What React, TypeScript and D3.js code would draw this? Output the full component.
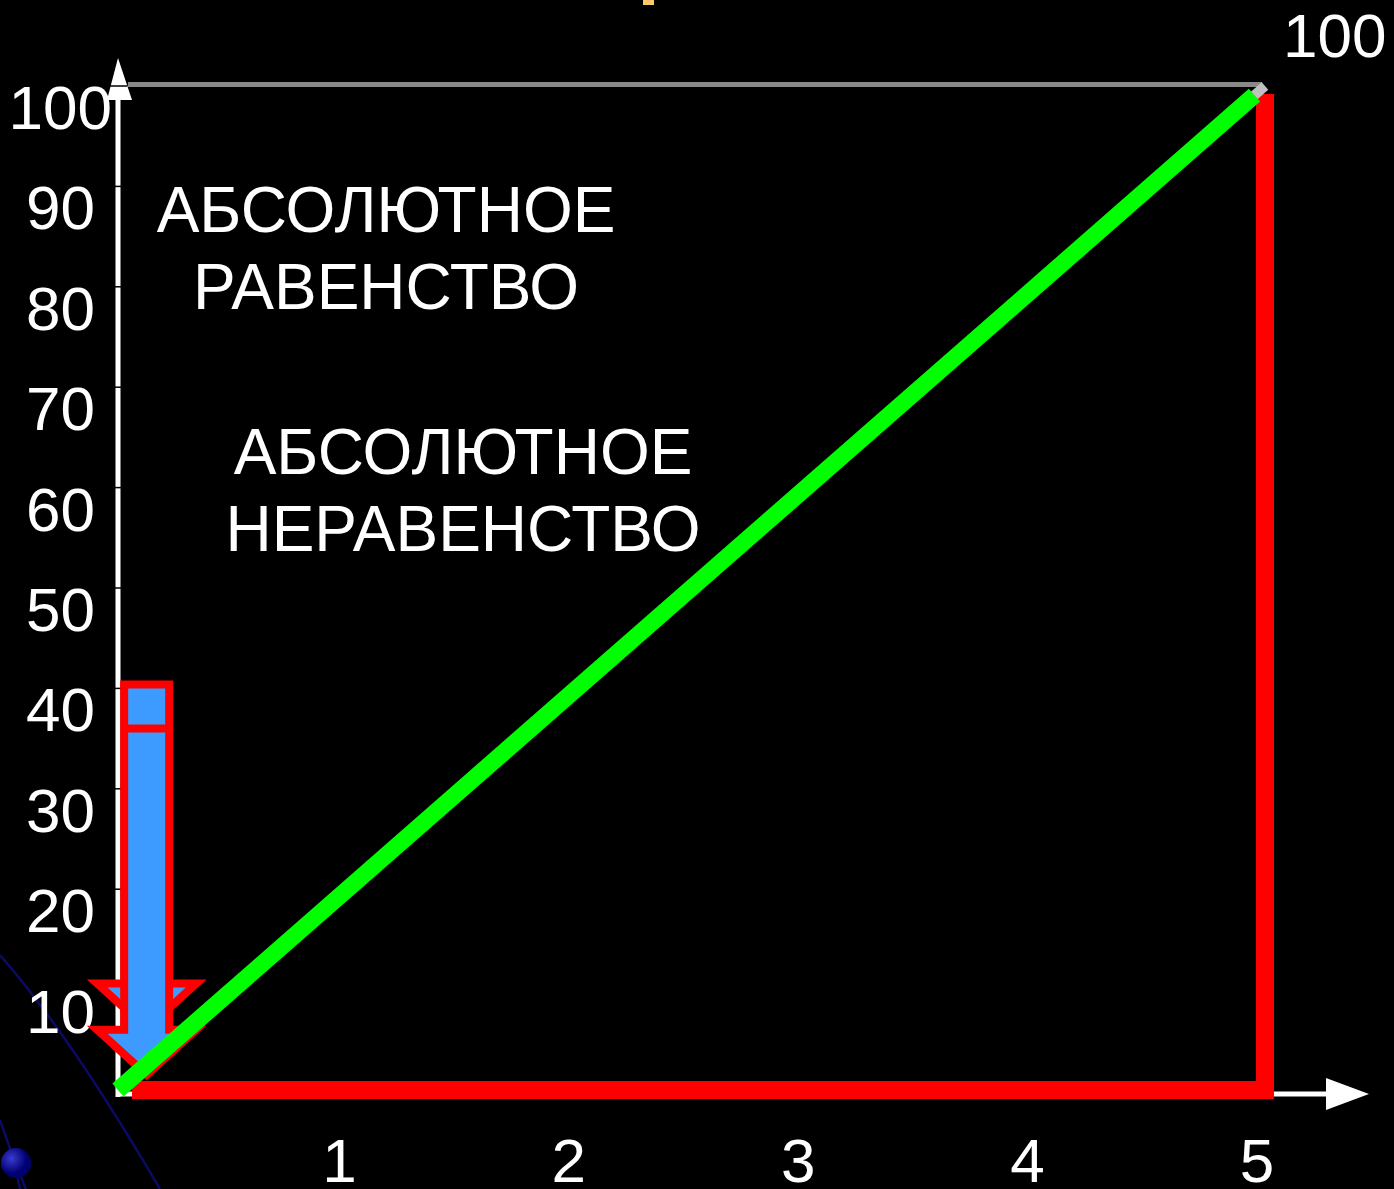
import React, { useEffect, useRef } from "react";
import * as d3 from "d3";

// quintiles of population (x) and cumulative share of income, % (y)
const xTicks = [1, 2, 3, 4, 5];
const yTicks = [10, 20, 30, 40, 50, 60, 70, 80, 90, 100];
const equalityLine: [number, number][] = [
  [0, 0],
  [5, 100],
];
const inequalityLine: [number, number][] = [
  [0, 0],
  [5, 0],
  [5, 100],
];
const equalityLabel = ["АБСОЛЮТНОЕ", "РАВЕНСТВО"];
const inequalityLabel = ["АБСОЛЮТНОЕ", "НЕРАВЕНСТВО"];
const cornerLabel = "100";

// the blue "down" arrow, in chart units
const arrowX = 0.125;
const arrowTop = 40.4;
const arrowSplit = 36;
const arrowHeadTop = 6;
const arrowGhostTop = 10.6;

const W = 1394;
const H = 1189;
const FONT = "'Liberation Sans', Arial, sans-serif";

const App = () => {
  const svgRef = useRef<SVGSVGElement>(null);

  useEffect(() => {
    const svg = d3.select(svgRef.current);
    svg.selectAll("*").remove();

    const x = d3.scaleLinear().domain([0, 5]).range([118, 1265]);
    const y = d3.scaleLinear().domain([0, 100]).range([1090, 86]);

    svg.append("rect").attr("width", W).attr("height", H).attr("fill", "#000");

    // slide template leftovers
    const grad = svg
      .append("defs")
      .append("radialGradient")
      .attr("id", "ball")
      .attr("cx", "35%")
      .attr("cy", "35%");
    grad.append("stop").attr("offset", "0%").attr("stop-color", "#3a3ad0");
    grad.append("stop").attr("offset", "100%").attr("stop-color", "#000070");

    svg
      .append("path")
      .attr("d", "M0,955 Q70,1035 160,1189")
      .attr("fill", "none")
      .attr("stroke", "#0b0b66")
      .attr("stroke-width", 2.5);
    svg
      .append("path")
      .attr("d", "M0,1120 L14,1160 L20,1189 M14,1160 L26,1189")
      .attr("fill", "none")
      .attr("stroke", "#0b0b66")
      .attr("stroke-width", 2.5);
    svg.append("circle").attr("cx", 16).attr("cy", 1163).attr("r", 15).attr("fill", "url(#ball)");
    svg.append("rect").attr("x", 643).attr("y", 0).attr("width", 11).attr("height", 5).attr("fill", "#ffc966");

    // frame top
    svg
      .append("line")
      .attr("x1", x(0) + 10)
      .attr("x2", x(5) - 3)
      .attr("y1", y(100) - 1.5)
      .attr("y2", y(100) - 1.5)
      .attr("stroke", "#888")
      .attr("stroke-width", 5);

    // y axis with arrow
    svg
      .append("line")
      .attr("x1", x(0))
      .attr("x2", x(0))
      .attr("y1", y(0) + 7)
      .attr("y2", 98)
      .attr("stroke", "#fff")
      .attr("stroke-width", 5);
    svg
      .append("path")
      .attr("d", `M${x(0)},58 L${x(0) + 14},100 L${x(0) - 11},100 Z`)
      .attr("fill", "#fff");

    svg
      .selectAll(".tick")
      .data(yTicks)
      .enter()
      .append("line")
      .attr("class", "tick")
      .attr("x1", (d) => (d === 100 ? x(0) - 8 : x(0) - 3))
      .attr("x2", (d) => (d === 100 ? x(0) + 9 : x(0) + 3))
      .attr("y1", (d) => y(d))
      .attr("y2", (d) => y(d))
      .attr("stroke", "#000")
      .attr("stroke-width", 1.5);

    svg
      .selectAll(".ylab")
      .data(yTicks)
      .enter()
      .append("text")
      .attr("class", "ylab")
      .attr("x", (d) => (d === 100 ? 112 : 95))
      .attr("y", (d) => y(d) + 43)
      .attr("text-anchor", "end")
      .attr("font-family", FONT)
      .attr("font-size", 62)
      .attr("fill", "#fff")
      .text((d) => d);

    // x axis with arrow
    svg
      .append("line")
      .attr("x1", x(0))
      .attr("x2", 1330)
      .attr("y1", y(0) + 4)
      .attr("y2", y(0) + 4)
      .attr("stroke", "#fff")
      .attr("stroke-width", 5);
    svg
      .append("path")
      .attr("d", `M1369,${y(0) + 4} L1326,${y(0) - 12} L1326,${y(0) + 20} Z`)
      .attr("fill", "#fff");

    svg
      .selectAll(".xlab")
      .data(xTicks)
      .enter()
      .append("text")
      .attr("class", "xlab")
      .attr("x", (d) => x(d) - 8)
      .attr("y", 1182)
      .attr("text-anchor", "middle")
      .attr("font-family", FONT)
      .attr("font-size", 62)
      .attr("fill", "#fff")
      .text((d) => d);

    svg
      .append("text")
      .attr("x", 1283)
      .attr("y", 57)
      .attr("font-family", FONT)
      .attr("font-size", 62)
      .attr("fill", "#fff")
      .text(cornerLabel);

    // line of absolute inequality
    const pts = inequalityLine.map(([a, b]) => [x(a), y(b)] as [number, number]);
    pts[0][0] += 14;
    pts[2][1] += 8;
    svg
      .append("path")
      .attr("d", d3.line()(pts))
      .attr("fill", "none")
      .attr("stroke", "#ff0000")
      .attr("stroke-width", 18)
      .attr("stroke-linejoin", "miter");

    // blue arrow
    const cx = x(arrowX);
    const sh = 22.5;
    const hh = 49.5;
    const hl = 45;
    const gt = y(arrowGhostTop);
    svg
      .append("path")
      .attr("d", `M${cx - hh},${gt} L${cx + hh},${gt} L${cx},${gt + hl} Z`)
      .attr("fill", "#3d9bff")
      .attr("stroke", "#ff0000")
      .attr("stroke-width", 8);
    const ht = y(arrowHeadTop);
    const tp = y(arrowTop);
    svg
      .append("path")
      .attr(
        "d",
        `M${cx - sh},${tp} L${cx + sh},${tp} L${cx + sh},${ht} L${cx + hh},${ht} L${cx},${ht + hl} L${cx - hh},${ht} L${cx - sh},${ht} Z`
      )
      .attr("fill", "#3d9bff")
      .attr("stroke", "#ff0000")
      .attr("stroke-width", 8);
    svg
      .append("line")
      .attr("x1", cx - sh)
      .attr("x2", cx + sh)
      .attr("y1", y(arrowSplit))
      .attr("y2", y(arrowSplit))
      .attr("stroke", "#ff0000")
      .attr("stroke-width", 8);

    // line of absolute equality
    const eq = equalityLine.map(([a, b]) => [x(a), y(b)] as [number, number]);
    svg
      .append("path")
      .attr("d", d3.line()(eq))
      .attr("stroke", "#c0c0c0")
      .attr("stroke-width", 10);
    const len = Math.hypot(eq[1][0] - eq[0][0], eq[1][1] - eq[0][1]);
    svg
      .append("path")
      .attr("d", d3.line()(eq))
      .attr("stroke", "#00ff00")
      .attr("stroke-width", 17)
      .attr("stroke-dasharray", `${len - 14} ${len}`);

    // annotations
    const addBlock = (lines: string[], cxText: number, y0: number) => {
      svg
        .selectAll(null)
        .data(lines)
        .enter()
        .append("text")
        .attr("x", cxText)
        .attr("y", (_, i) => y0 + i * 77)
        .attr("text-anchor", "middle")
        .attr("font-family", FONT)
        .attr("font-size", 64)
        .attr("fill", "#fff")
        .text((d) => d);
    };
    addBlock(equalityLabel, 386, 232);
    addBlock(inequalityLabel, 463, 474);
  }, []);

  return (
    <svg
      ref={svgRef}
      width={W}
      height={H}
      style={{ position: "absolute", left: 0, top: 0, display: "block" }}
    />
  );
};

export default App;
